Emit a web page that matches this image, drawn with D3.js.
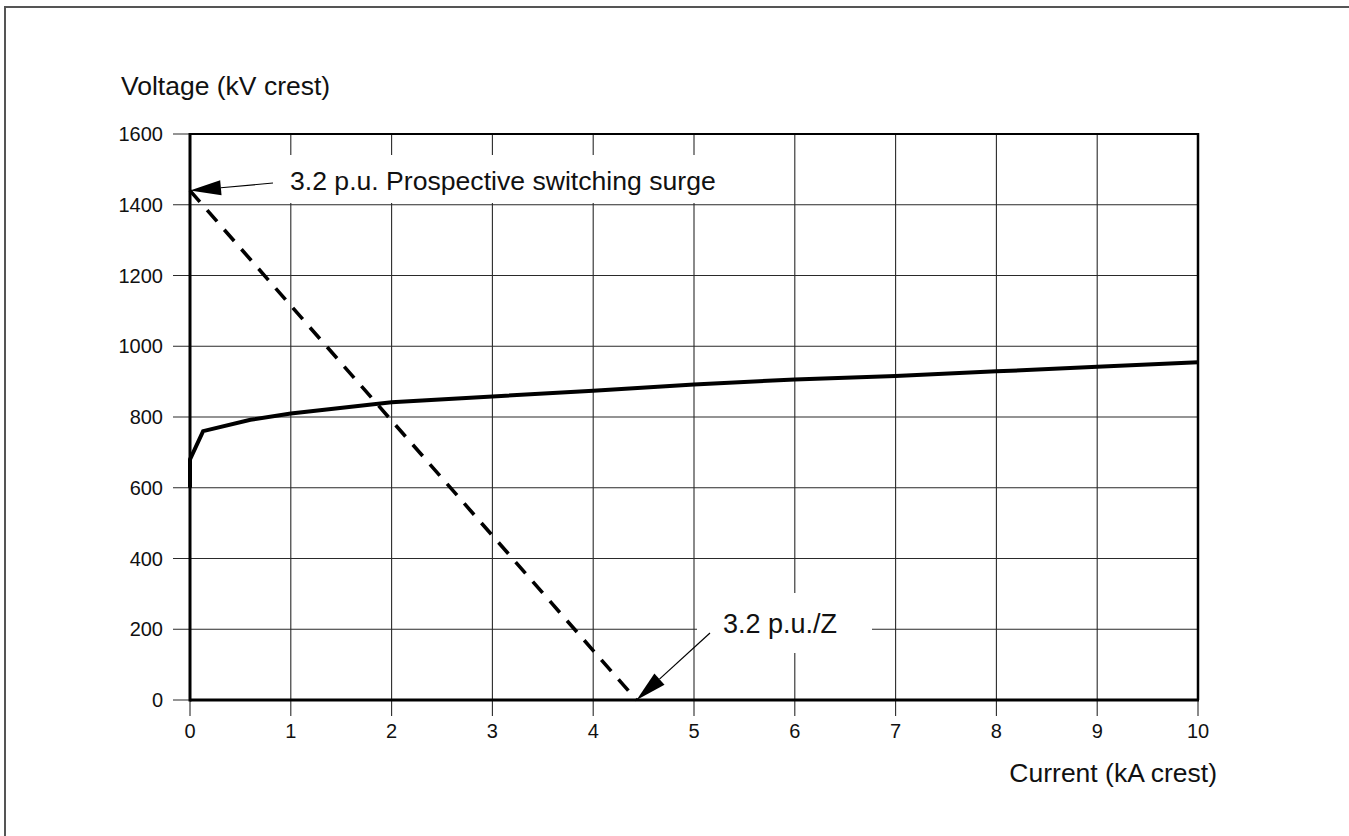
<!DOCTYPE html>
<html>
<head>
<meta charset="utf-8">
<script src="https://cdn.jsdelivr.net/npm/d3@7"></script>
<style>
  html, body { margin: 0; padding: 0; background: #fff; }
  svg { display: block; font-family: "Liberation Sans", Arial, Helvetica, sans-serif; }
</style>
</head>
<body>
<svg id="chart" width="1349" height="836"></svg>
<script>
// Arrester V-I characteristic and the switching-surge load line
const xTickValues = [0, 1, 2, 3, 4, 5, 6, 7, 8, 9, 10];
const yTickValues = [0, 200, 400, 600, 800, 1000, 1200, 1400, 1600];

const currentKA = [0, 0, 0.13, 0.6, 1.0, 2.0, 3.0, 4.0, 5.0, 6.0, 7.0, 8.0, 9.0, 10.0];
const voltageKV = [600, 680, 760, 792, 810, 842, 858, 874, 892, 906, 916, 929, 942, 955];

// Load line: prospective surge voltage at zero current, surge/Z at zero voltage
const surgeCurrent = [0, 4.43];
const surgeVoltage = [1440, 0];

const labelSurge = "3.2 p.u. Prospective switching surge";
const labelZ = "3.2 p.u./Z";
const xTitle = "Current (kA crest)";
const yTitle = "Voltage (kV crest)";

const svg = d3.select("#chart");
const x = d3.scaleLinear().domain([0, 10]).range([190, 1198]);
const y = d3.scaleLinear().domain([0, 1600]).range([700, 134]);

// outer frame (left and top edges)
svg.append("path")
  .attr("d", "M5,836 L5,7 L1349,7")
  .attr("fill", "none").attr("stroke", "#555").attr("stroke-width", 2);

// grid
const grid = svg.append("g").attr("stroke", "#2a2a2a").attr("stroke-width", 1.1);
grid.selectAll("line.v").data(xTickValues).join("line")
  .attr("x1", d => x(d)).attr("x2", d => x(d))
  .attr("y1", y(1600)).attr("y2", y(0) + 16);
grid.selectAll("line.h").data(yTickValues).join("line")
  .attr("x1", x(0) - 17).attr("x2", x(10))
  .attr("y1", d => y(d)).attr("y2", d => y(d));

// label backgrounds interrupt the grid
svg.append("rect").attr("x", 260).attr("y", 155).attr("width", 496).attr("height", 48).attr("fill", "#fff");
svg.append("rect").attr("x", 697).attr("y", 593).attr("width", 175).attr("height", 60).attr("fill", "#fff");

// tick labels
svg.append("g").selectAll("text").data(yTickValues).join("text")
  .attr("x", 163).attr("y", d => y(d)).attr("dy", "0.35em")
  .attr("text-anchor", "end").attr("font-size", 20).attr("fill", "#111")
  .text(d => d);
svg.append("g").selectAll("text").data(xTickValues).join("text")
  .attr("x", d => x(d)).attr("y", 738)
  .attr("text-anchor", "middle").attr("font-size", 20).attr("fill", "#111")
  .text(d => d);

// axis titles
svg.append("text").attr("x", 121).attr("y", 95).attr("font-size", 26.5).attr("fill", "#111").text(yTitle);
svg.append("text").attr("x", 1217).attr("y", 782).attr("text-anchor", "end").attr("font-size", 26.5).attr("fill", "#111").text(xTitle);

// plot frame
svg.append("line").attr("x1", x(0)).attr("x2", x(10)).attr("y1", y(1600)).attr("y2", y(1600))
  .attr("stroke", "#000").attr("stroke-width", 2);
svg.append("line").attr("x1", x(10)).attr("x2", x(10)).attr("y1", y(1600) - 1).attr("y2", y(0))
  .attr("stroke", "#000").attr("stroke-width", 2.5);
svg.append("line").attr("x1", x(0)).attr("x2", x(10) + 1).attr("y1", y(0)).attr("y2", y(0))
  .attr("stroke", "#000").attr("stroke-width", 3);
svg.append("line").attr("x1", x(0)).attr("x2", x(0)).attr("y1", y(1600) - 1).attr("y2", y(0) + 1.5)
  .attr("stroke", "#000").attr("stroke-width", 3);

// load line (dashed)
const surgePts = surgeCurrent.map((c, i) => [c, surgeVoltage[i]]);
svg.append("path")
  .attr("d", d3.line().x(d => x(d[0])).y(d => y(d[1]))(surgePts))
  .attr("fill", "none").attr("stroke", "#000").attr("stroke-width", 3.6)
  .attr("stroke-dasharray", "15,11");

// arrester characteristic
const vi = currentKA.map((c, i) => [c, voltageKV[i]]);
svg.append("path")
  .attr("d", d3.line().x(d => x(d[0])).y(d => y(d[1]))(vi))
  .attr("fill", "none").attr("stroke", "#000").attr("stroke-width", 4)
  .attr("stroke-linejoin", "miter");

// annotation arrows
function arrow(x0, y0, x1, y1) {
  const ang = Math.atan2(y1 - y0, x1 - x0);
  const len = 31, half = 7.5;
  const bx = x1 - len * Math.cos(ang), by = y1 - len * Math.sin(ang);
  const px = -Math.sin(ang) * half, py = Math.cos(ang) * half;
  svg.append("line").attr("x1", x0).attr("y1", y0).attr("x2", bx).attr("y2", by)
    .attr("stroke", "#000").attr("stroke-width", 1.2);
  svg.append("path")
    .attr("d", `M${x1},${y1} L${bx + px},${by + py} L${bx - px},${by - py} Z`)
    .attr("fill", "#000");
}
arrow(273, 183, x(surgeCurrent[0]), y(surgeVoltage[0]));
arrow(710, 633, x(surgeCurrent[1]), y(surgeVoltage[1]));

// annotation labels
svg.append("text").attr("x", 290).attr("y", 190).attr("font-size", 26.6).attr("fill", "#111").text(labelSurge);
svg.append("text").attr("x", 723).attr("y", 633).attr("font-size", 27).attr("fill", "#111").text(labelZ);
</script>
</body>
</html>
